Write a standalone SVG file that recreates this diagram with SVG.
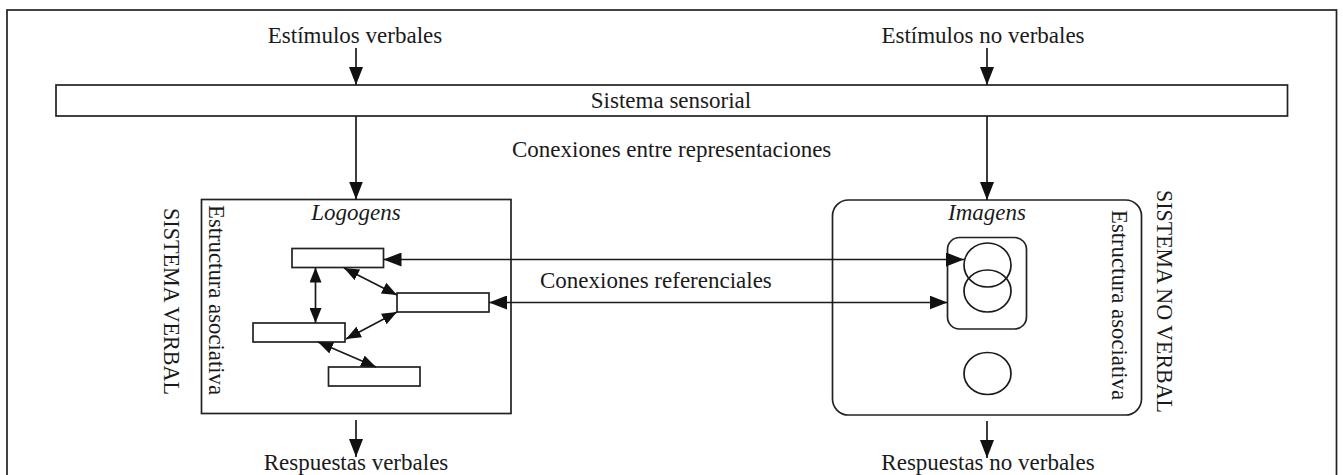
<svg xmlns="http://www.w3.org/2000/svg" width="1343" height="475" viewBox="0 0 1343 475">
<style>
.box{fill:#fff;stroke:#222;stroke-width:1.7}
.ln{fill:none;stroke:#1a1a1a;stroke-width:1.7}
.t{font-family:"Liberation Serif","Times New Roman",serif;font-size:23px;fill:#1a1a1a}
.it{font-style:italic}
.c{text-anchor:middle}
.big{font-size:24px}
</style>
<defs>
<marker id="ah" markerUnits="userSpaceOnUse" markerWidth="18" markerHeight="14" refX="18" refY="7" orient="auto-start-reverse" viewBox="0 0 18 14">
<path d="M0,0 L18,7 L0,14 z" fill="#111"/>
</marker>
<marker id="as" markerUnits="userSpaceOnUse" markerWidth="15" markerHeight="12" refX="15" refY="6" orient="auto-start-reverse" viewBox="0 0 15 12">
<path d="M0,0 L15,6 L0,12 z" fill="#111"/>
</marker>
</defs>
<rect x="7" y="10" width="1329.5" height="480" fill="none" stroke="#222" stroke-width="1.7"/>
<g id="sensorial">
<rect class="box" x="56" y="85" width="1231.5" height="31"/>
<text class="t c" x="671" y="108">Sistema sensorial</text>
</g>
<g id="estimulos-verbales"><text class="t c" x="355" y="43">Estímulos verbales</text></g>
<g id="estimulos-no-verbales"><text class="t c" x="983" y="43">Estímulos no verbales</text></g>
<g id="conexiones-entre"><text class="t" x="512" y="157">Conexiones entre representaciones</text></g>
<g id="conexiones-ref"><text class="t" x="540" y="288">Conexiones referenciales</text></g>
<g id="sistema-verbal"><text class="t big" transform="translate(164,208) rotate(90)" textLength="187" lengthAdjust="spacingAndGlyphs">SISTEMA VERBAL</text></g>
<g id="sistema-no-verbal"><text class="t big" transform="translate(1157,190) rotate(90)" textLength="223" lengthAdjust="spacingAndGlyphs">SISTEMA NO VERBAL</text></g>
<g id="logogens">
<rect class="box" x="201.5" y="199.5" width="309.5" height="214"/>
<text class="t it c" x="356" y="220">Logogens</text>
<text class="t" transform="translate(209,205) rotate(90)" textLength="190" lengthAdjust="spacingAndGlyphs">Estructura asociativa</text>
</g>
<g id="l1"><rect class="box" x="292" y="248.5" width="91.5" height="19"/></g>
<g id="l2"><rect class="box" x="397" y="293" width="92" height="19"/></g>
<g id="l3"><rect class="box" x="253" y="323" width="92" height="19"/></g>
<g id="l4"><rect class="box" x="328.5" y="367" width="91.5" height="19"/></g>
<g id="imagens">
<rect class="box" x="832.5" y="200" width="309" height="215" rx="16"/>
<text class="t it c" x="987" y="220">Imagens</text>
<text class="t" transform="translate(1112,210) rotate(90)" textLength="190" lengthAdjust="spacingAndGlyphs">Estructura asociativa</text>
</g>
<g id="imagen-grupo">
<rect class="box" x="947.5" y="237.5" width="79" height="91.5" rx="12"/>
<ellipse class="ln" cx="987.5" cy="265" rx="23.5" ry="22"/>
<ellipse class="ln" cx="987.5" cy="291" rx="23.5" ry="21"/>
</g>
<g id="imagen-sola"><ellipse class="ln" cx="987.5" cy="373.5" rx="23.5" ry="21"/></g>
<g id="respuestas-verbales"><text class="t c" x="356" y="470">Respuestas verbales</text></g>
<g id="respuestas-no-verbales"><text class="t c" x="988" y="470">Respuestas no verbales</text></g>
<g id="connectors">
<line class="ln" x1="356" y1="48" x2="356" y2="85" marker-end="url(#ah)"/>
<line class="ln" x1="987" y1="48" x2="987" y2="85" marker-end="url(#ah)"/>
<line class="ln" x1="356" y1="116" x2="356" y2="199.5" marker-end="url(#ah)"/>
<line class="ln" x1="987" y1="116" x2="987" y2="200" marker-end="url(#ah)"/>
<line class="ln" x1="383.5" y1="259.5" x2="964" y2="259.5" marker-start="url(#ah)" marker-end="url(#ah)"/>
<line class="ln" x1="489" y1="302.5" x2="947.5" y2="302.5" marker-start="url(#ah)" marker-end="url(#ah)"/>
<line class="ln" x1="315.5" y1="267.5" x2="315.5" y2="323" marker-start="url(#as)" marker-end="url(#as)"/>
<line class="ln" x1="344" y1="268" x2="397" y2="295" marker-start="url(#as)" marker-end="url(#as)"/>
<line class="ln" x1="397" y1="312" x2="346" y2="339" marker-start="url(#as)" marker-end="url(#as)"/>
<line class="ln" x1="318" y1="342" x2="376" y2="367" marker-start="url(#as)" marker-end="url(#as)"/>
<line class="ln" x1="356" y1="420" x2="356" y2="457" marker-end="url(#ah)"/>
<line class="ln" x1="987" y1="421" x2="987" y2="458" marker-end="url(#ah)"/>
</g>
</svg>
